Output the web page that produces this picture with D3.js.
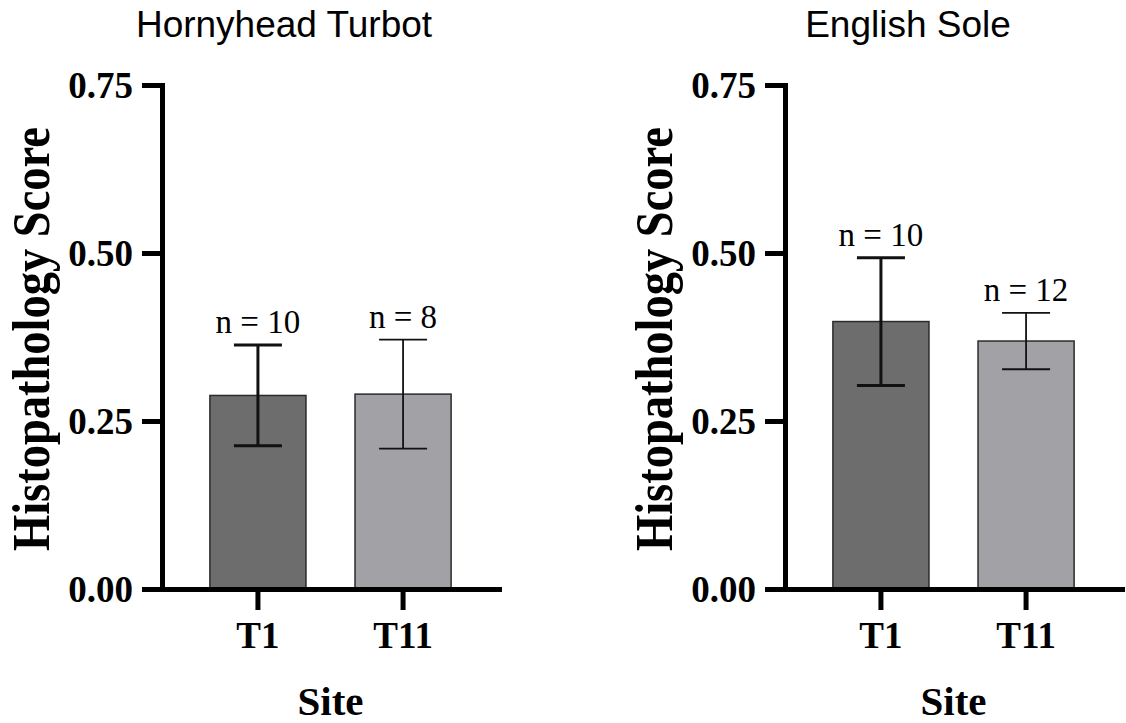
<!DOCTYPE html>
<html>
<head>
<meta charset="utf-8">
<script src="https://cdn.jsdelivr.net/npm/d3@7"></script>
<style>
  body { margin: 0; background: #fff; }
  svg { display: block; }
</style>
</head>
<body>
<svg id="chart" width="1126" height="723"></svg>
<script>
'use strict';

// data
const sites = ['T1', 'T11'];
const yTicks = [0, 0.25, 0.5, 0.75];

const turbotMeans = [0.288, 0.290];
const turbotSem = [0.075, 0.081];
const turbotN = [10, 8];

const soleMeans = [0.398, 0.369];
const soleSem = [0.095, 0.042];
const soleN = [10, 12];

const panelTitles = ['Hornyhead Turbot', 'English Sole'];

const barColors = ['#6d6d6d', '#a2a1a6'];
const errWidths = [3, 1.8];
const serif = '"Liberation Serif", "Times New Roman", serif';
const sans = '"Liberation Sans", Arial, sans-serif';

const panels = [
  {title: panelTitles[0], means: turbotMeans, sem: turbotSem, n: turbotN, axisX: 162, titleX: 284},
  {title: panelTitles[1], means: soleMeans, sem: soleSem, n: soleN, axisX: 785, titleX: 908}
];

const svg = d3.select('#chart');
const yBase = 589;
const yTop = 85;
const axisLen = 337;

panels.forEach(p => {
  const g = svg.append('g');

  const y = d3.scaleLinear().domain([0, 0.75]).range([yBase, yTop]);
  const x = d3.scaleBand()
    .domain(sites)
    .range([p.axisX, p.axisX + axisLen])
    .paddingInner(0.338)
    .paddingOuter(0.33);

  const rows = sites.map((s, i) => ({site: s, mean: p.means[i], sem: p.sem[i], n: p.n[i], i: i}));

  // bars
  g.selectAll('.bar')
    .data(rows)
    .enter()
    .append('rect')
    .attr('class', 'bar')
    .attr('x', d => x(d.site))
    .attr('width', x.bandwidth())
    .attr('y', d => y(d.mean))
    .attr('height', d => y(0) - y(d.mean))
    .attr('fill', d => barColors[d.i])
    .attr('stroke', '#2b2b2b')
    .attr('stroke-width', 1.5);

  // error bars
  const capHalf = 24;
  const eb = g.selectAll('.err')
    .data(rows)
    .enter()
    .append('g')
    .attr('class', 'err')
    .attr('stroke', '#111')
    .attr('stroke-width', d => errWidths[d.i]);
  eb.append('line')
    .attr('x1', d => x(d.site) + x.bandwidth() / 2)
    .attr('x2', d => x(d.site) + x.bandwidth() / 2)
    .attr('y1', d => y(d.mean + d.sem))
    .attr('y2', d => y(d.mean - d.sem));
  eb.append('line')
    .attr('x1', d => x(d.site) + x.bandwidth() / 2 - capHalf)
    .attr('x2', d => x(d.site) + x.bandwidth() / 2 + capHalf)
    .attr('y1', d => y(d.mean + d.sem))
    .attr('y2', d => y(d.mean + d.sem));
  eb.append('line')
    .attr('x1', d => x(d.site) + x.bandwidth() / 2 - capHalf)
    .attr('x2', d => x(d.site) + x.bandwidth() / 2 + capHalf)
    .attr('y1', d => y(d.mean - d.sem))
    .attr('y2', d => y(d.mean - d.sem));

  // n labels
  g.selectAll('.nlab')
    .data(rows)
    .enter()
    .append('text')
    .attr('class', 'nlab')
    .attr('x', d => x(d.site) + x.bandwidth() / 2)
    .attr('y', d => y(d.mean + d.sem) - 12)
    .attr('text-anchor', 'middle')
    .style('font-family', serif)
    .style('font-size', '33px')
    .text(d => `n = ${d.n}`);

  // axes
  const yAxis = g.append('g')
    .attr('transform', `translate(${p.axisX},0)`)
    .call(d3.axisLeft(y).tickValues(yTicks).tickFormat(d3.format('.2f')).tickSize(20).tickSizeOuter(0).tickPadding(9));
  const xAxis = g.append('g')
    .attr('transform', `translate(0,${yBase})`)
    .call(d3.axisBottom(x).tickSize(21).tickSizeOuter(0).tickPadding(12));

  [yAxis, xAxis].forEach(a => {
    a.select('.domain').attr('stroke', '#000').attr('stroke-width', 5).attr('stroke-linecap', 'square');
    a.selectAll('.tick line').attr('stroke', '#000').attr('stroke-width', 5);
    a.selectAll('.tick text')
      .attr('fill', '#000')
      .style('font-family', serif)
      .style('font-weight', 'bold')
      .style('font-size', '37px');
  });
  yAxis.selectAll('.tick text').attr('dy', '0.35em');

  // axis titles
  g.append('text')
    .attr('transform', `translate(${p.axisX - 113},${(yBase + yTop) / 2 + 2}) rotate(-90)`)
    .attr('text-anchor', 'middle')
    .attr('textLength', 424)
    .attr('lengthAdjust', 'spacingAndGlyphs')
    .style('font-family', serif)
    .style('font-weight', 'bold')
    .style('font-size', '53px')
    .text('Histopathology Score');

  g.append('text')
    .attr('x', (x('T1') + x('T11') + x.bandwidth()) / 2)
    .attr('y', 715)
    .attr('text-anchor', 'middle')
    .style('font-family', serif)
    .style('font-weight', 'bold')
    .style('font-size', '41px')
    .text('Site');

  g.append('text')
    .attr('x', p.titleX)
    .attr('y', 37)
    .attr('text-anchor', 'middle')
    .style('font-family', sans)
    .style('font-size', '37px')
    .text(p.title);
});
</script>
</body>
</html>
